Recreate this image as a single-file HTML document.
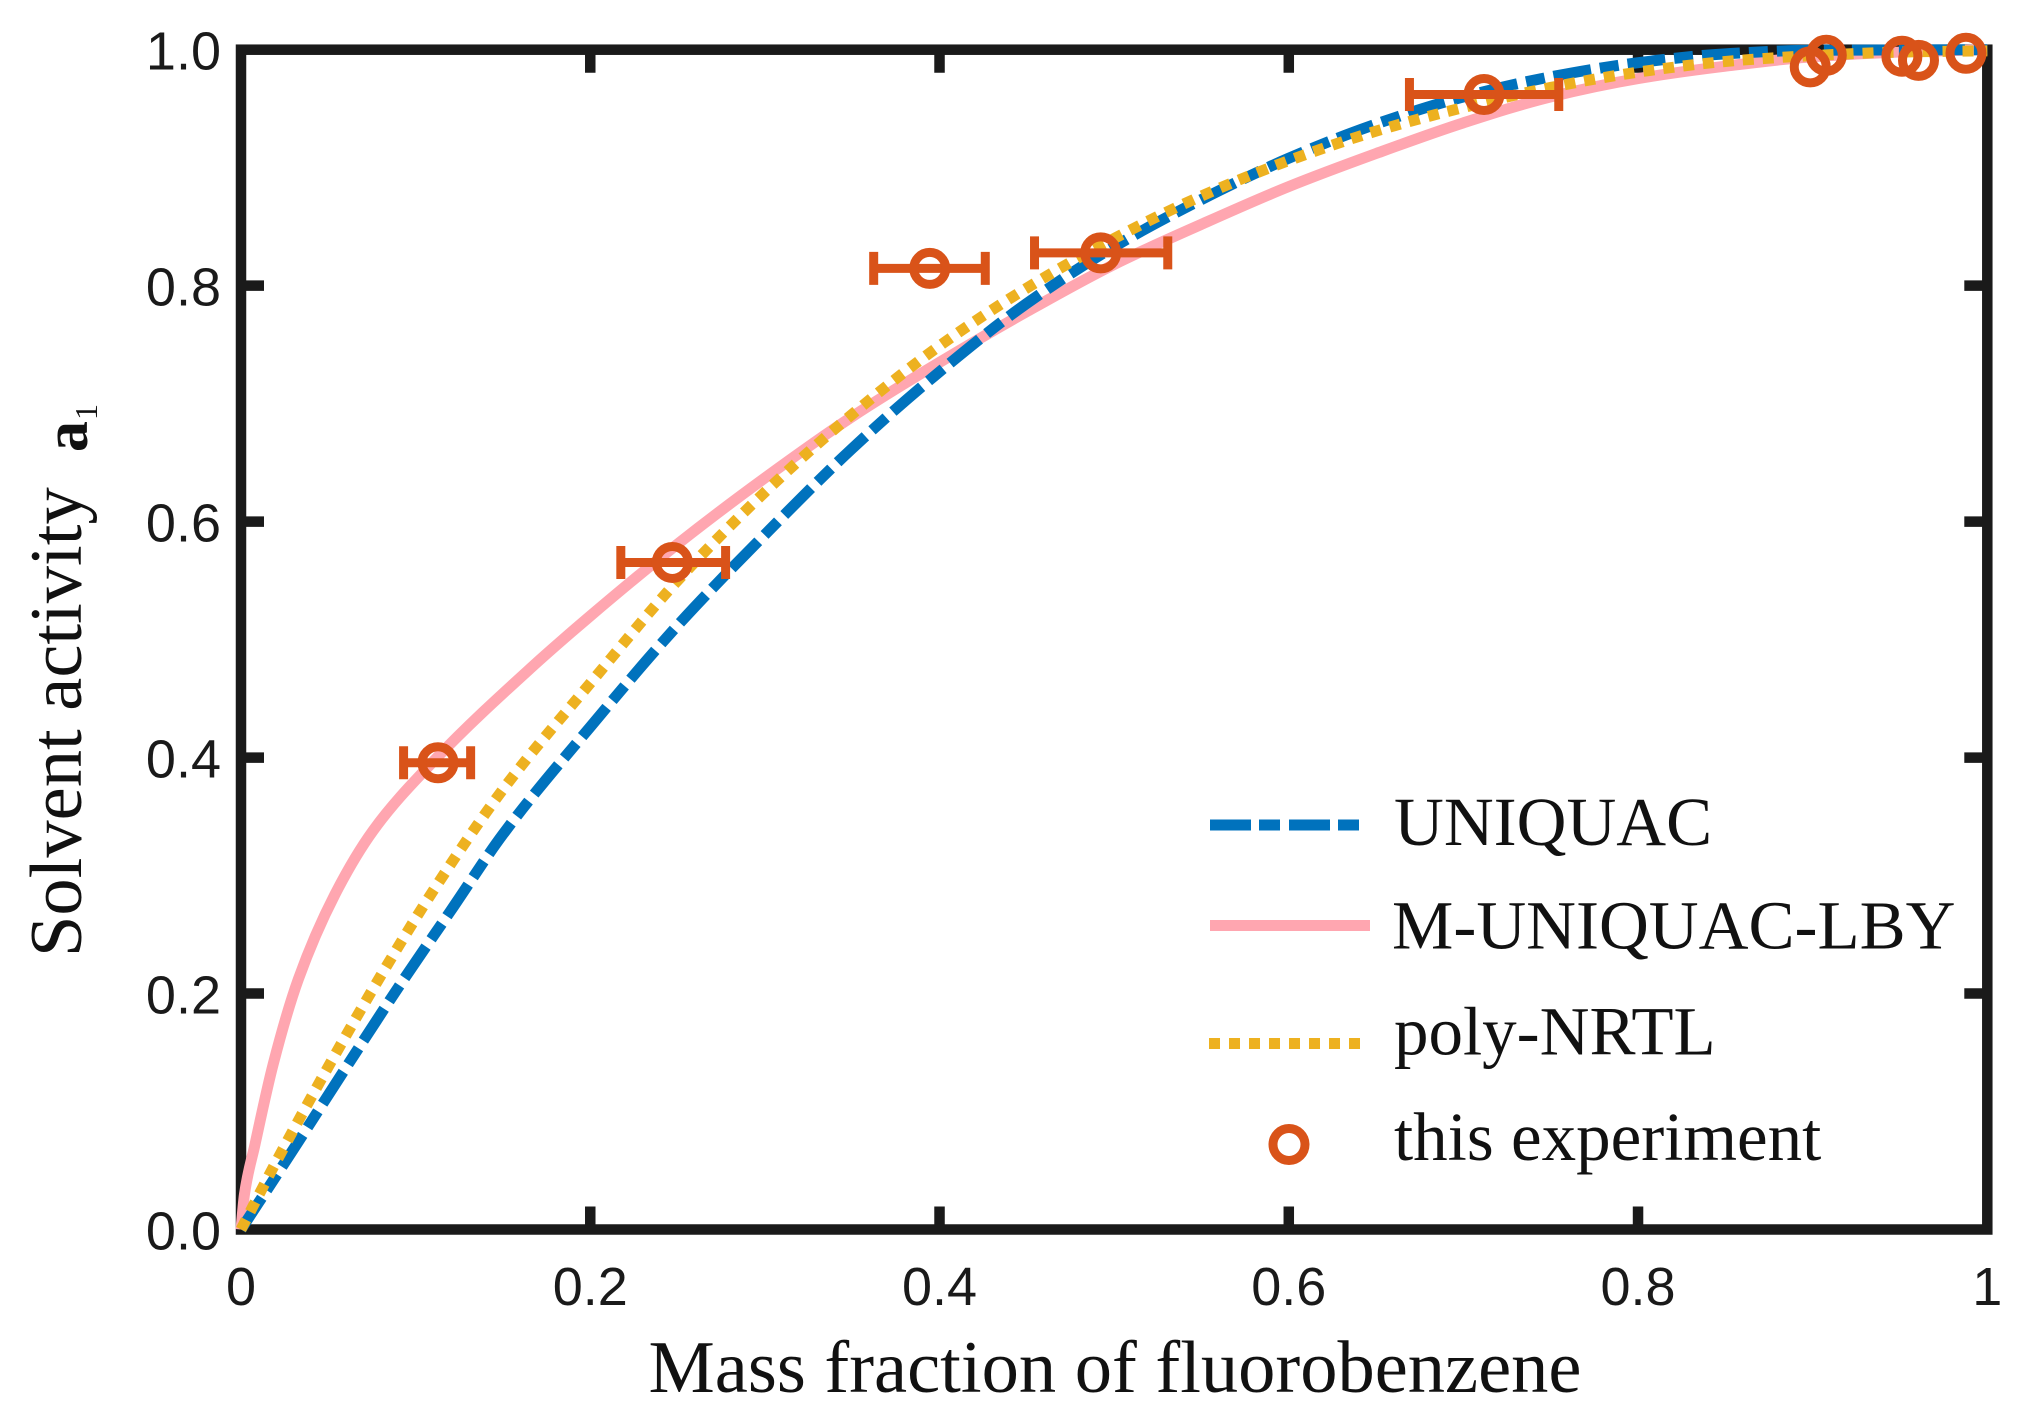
<!DOCTYPE html>
<html>
<head>
<meta charset="utf-8">
<title>Solvent activity vs mass fraction of fluorobenzene</title>
<style>
html,body{margin:0;padding:0;background:#fff;width:2028px;height:1417px;overflow:hidden}
svg{display:block}
.tick{font-family:"Liberation Sans",sans-serif;font-size:54px;fill:#1a1a1a}
.title{font-family:"Liberation Serif",serif;font-size:74.5px;fill:#111}
.leg{font-family:"Liberation Serif",serif;font-size:69px;fill:#111}
</style>
</head>
<body>
<svg id="chart" width="2028" height="1417" viewBox="0 0 2028 1417" xmlns="http://www.w3.org/2000/svg">
  <g id="axes"></g>
  <g id="series"></g>
  <text class="title" x="1115" y="1392" text-anchor="middle">Mass fraction of fluorobenzene</text>
  <text class="title" transform="translate(81,957) rotate(-90)">Solvent activity</text>
  <text transform="translate(87,452) rotate(-90)" font-family="'Liberation Serif',serif" font-weight="bold" font-size="62" fill="#111">a</text>
  <text transform="translate(97,420) rotate(-90)" font-family="'Liberation Serif',serif" font-size="32" fill="#111">1</text>
  <g>
    <line x1="1210" x2="1363" y1="825" y2="825" stroke="#0072BD" stroke-width="11" stroke-dasharray="41 8 21 9"/>
    <text class="leg" x="1394" y="845">UNIQUAC</text>
    <line x1="1210" x2="1370" y1="925.5" y2="925.5" stroke="#FFA6B0" stroke-width="11"/>
    <text class="leg" x="1392" y="948.5">M-UNIQUAC-LBY</text>
    <line x1="1209" x2="1368" y1="1043.5" y2="1043.5" stroke="#EDB120" stroke-width="11" stroke-dasharray="11 9"/>
    <text class="leg" x="1394" y="1054.5">poly-NRTL</text>
    <circle cx="1289" cy="1144.5" r="16" fill="none" stroke="#D95319" stroke-width="9"/>
    <text class="leg" x="1394" y="1160">this experiment</text>
  </g>
</svg>
<script>
const xTickValues = [0, 0.2, 0.4, 0.6, 0.8, 1];
const xTickLabels = ['0', '0.2', '0.4', '0.6', '0.8', '1'];
const yTickValues = [0, 0.2, 0.4, 0.6, 0.8, 1];
const yTickLabels = ['0.0', '0.2', '0.4', '0.6', '0.8', '1.0'];

const uniquacX = [0, 0.03, 0.06, 0.09, 0.12, 0.15, 0.2, 0.25, 0.3, 0.35, 0.4, 0.45, 0.5, 0.55, 0.6, 0.65, 0.7, 0.75, 0.8, 0.85, 0.9, 1];
const uniquacY = [0, 0.068, 0.137, 0.205, 0.27, 0.335, 0.426, 0.512, 0.589, 0.662, 0.727, 0.785, 0.833, 0.873, 0.908, 0.937, 0.96, 0.977, 0.989, 0.9965, 0.9995, 1];

const mUniquacX = [0, 0.002, 0.008, 0.0184, 0.0328, 0.0538, 0.0756, 0.1109, 0.166, 0.2, 0.25, 0.3, 0.35, 0.4, 0.45, 0.5, 0.55, 0.6, 0.65, 0.7, 0.75, 0.8, 0.85, 0.9, 0.95, 1];
const mUniquacY = [0, 0.03, 0.072, 0.14, 0.212, 0.284, 0.338, 0.398, 0.476, 0.52, 0.581, 0.637, 0.689, 0.735, 0.778, 0.818, 0.852, 0.884, 0.912, 0.938, 0.96, 0.9755, 0.986, 0.994, 0.998, 1];

const polyNrtlX = [0, 0.02, 0.05, 0.08, 0.11, 0.15, 0.2, 0.25, 0.3, 0.35, 0.4, 0.45, 0.5, 0.55, 0.6, 0.65, 0.7, 0.75, 0.8, 0.85, 0.9, 0.95, 1];
const polyNrtlY = [0, 0.057, 0.138, 0.215, 0.287, 0.373, 0.463, 0.55, 0.625, 0.691, 0.749, 0.798, 0.84, 0.876, 0.906, 0.931, 0.951, 0.968, 0.981, 0.99, 0.995, 0.998, 0.999];

const expX = [0.1128, 0.247, 0.3944, 0.4923, 0.7118, 0.8986, 0.9078, 0.9511, 0.9606, 0.9878];
const expY = [0.3956, 0.5654, 0.8146, 0.8278, 0.962, 0.9854, 0.9953, 0.9945, 0.991, 0.997];
const errX = [0.1128, 0.247, 0.3944, 0.4923, 0.7118];
const errY = [0.3956, 0.5654, 0.8146, 0.8278, 0.962];
const errLow = [0.0931, 0.2175, 0.3623, 0.4544, 0.6691];
const errHigh = [0.1315, 0.2775, 0.4262, 0.5307, 0.7546];

const NS = 'http://www.w3.org/2000/svg';
const plotLeft = 241, plotRight = 1987.3, plotTop = 49.7, plotBottom = 1229.5;
function sx(v) { return plotLeft + (plotRight - plotLeft) * v; }
function sy(v) { return plotBottom - (plotBottom - plotTop) * v; }

function make(tag, parent) {
  const el = document.createElementNS(NS, tag);
  parent.appendChild(el);
  return el;
}
function monotonePath(xs, ys) {
  const px = xs.map(sx), py = ys.map(sy), n = px.length;
  const d = [], m = new Array(n);
  for (let i = 0; i < n - 1; i++) d.push((py[i + 1] - py[i]) / (px[i + 1] - px[i]));
  m[0] = d[0]; m[n - 1] = d[n - 2];
  for (let i = 1; i < n - 1; i++) {
    if (d[i - 1] * d[i] <= 0) { m[i] = 0; continue; }
    const h0 = px[i] - px[i - 1], h1 = px[i + 1] - px[i];
    const w0 = 2 * h1 + h0, w1 = h1 + 2 * h0;
    m[i] = (w0 + w1) / (w0 / d[i - 1] + w1 / d[i]);
  }
  let s = 'M' + px[0].toFixed(2) + ' ' + py[0].toFixed(2);
  for (let i = 0; i < n - 1; i++) {
    const h = (px[i + 1] - px[i]) / 3;
    s += 'C' + (px[i] + h).toFixed(2) + ' ' + (py[i] + m[i] * h).toFixed(2) + ' ' +
         (px[i + 1] - h).toFixed(2) + ' ' + (py[i + 1] - m[i + 1] * h).toFixed(2) + ' ' +
         px[i + 1].toFixed(2) + ' ' + py[i + 1].toFixed(2);
  }
  return s;
}

const axes = document.getElementById('axes');
const series = document.getElementById('series');
const INK = '#1a1a1a';

const frame = make('rect', axes);


frame.setAttribute('x', sx(0));
frame.setAttribute('y', sy(1));
frame.setAttribute('width', sx(1) - sx(0));
frame.setAttribute('height', sy(0) - sy(1));
frame.setAttribute('fill', 'none');
frame.setAttribute('stroke', INK);
frame.setAttribute('stroke-width', '10.5');

const TICK_LEN = 23;
xTickValues.forEach(function (v, i) {
  if (v > 0 && v < 1) {
    [[sy(0), sy(0) - TICK_LEN], [sy(1), sy(1) + TICK_LEN]].forEach(function (p) {
      const t = make('line', axes);
      
      
      t.setAttribute('x1', sx(v));
      t.setAttribute('x2', sx(v));
      t.setAttribute('y1', p[0]);
      t.setAttribute('y2', p[1]);
      t.setAttribute('stroke', INK);
      t.setAttribute('stroke-width', '10.5');
    });
  }
  const lab = make('text', axes);
  
  
  lab.setAttribute('class', 'tick');
  lab.setAttribute('x', sx(v));
  lab.setAttribute('y', 1305);
  lab.setAttribute('text-anchor', 'middle');
  lab.textContent = xTickLabels[i];
});
yTickValues.forEach(function (v, i) {
  if (v > 0 && v < 1) {
    [[sx(0), sx(0) + TICK_LEN], [sx(1), sx(1) - TICK_LEN]].forEach(function (p) {
      const t = make('line', axes);
      
      
      t.setAttribute('x1', p[0]);
      t.setAttribute('x2', p[1]);
      t.setAttribute('y1', sy(v));
      t.setAttribute('y2', sy(v));
      t.setAttribute('stroke', INK);
      t.setAttribute('stroke-width', '10.5');
    });
  }
  const lab = make('text', axes);
  
  
  lab.setAttribute('class', 'tick');
  lab.setAttribute('x', 221);
  lab.setAttribute('y', sy(v) + 20);
  lab.setAttribute('text-anchor', 'end');
  lab.textContent = yTickLabels[i];
});

const pink = make('path', series);


pink.setAttribute('d', monotonePath(mUniquacX, mUniquacY));
pink.setAttribute('fill', 'none');
pink.setAttribute('stroke', '#FFA6B0');
pink.setAttribute('stroke-width', '11');

const blue = make('path', series);


blue.setAttribute('d', monotonePath(uniquacX, uniquacY));
blue.setAttribute('fill', 'none');
blue.setAttribute('stroke', '#0072BD');
blue.setAttribute('stroke-width', '11');
blue.setAttribute('stroke-dasharray', '38 9 19 9');

const yellow = make('path', series);


yellow.setAttribute('d', monotonePath(polyNrtlX, polyNrtlY));
yellow.setAttribute('fill', 'none');
yellow.setAttribute('stroke', '#EDB120');
yellow.setAttribute('stroke-width', '11');
yellow.setAttribute('stroke-dasharray', '11 9');

errX.forEach(function (v, i) {
  const bar = make('path', series);
  
  
  const y = sy(errY[i]), a = sx(errLow[i]), b = sx(errHigh[i]);
  bar.setAttribute('d', 'M' + a + ' ' + y + 'H' + b + 'M' + a + ' ' + (y - 16.5) + 'V' + (y + 16.5) + 'M' + b + ' ' + (y - 16.5) + 'V' + (y + 16.5));
  bar.setAttribute('fill', 'none');
  bar.setAttribute('stroke', '#D95319');
  bar.setAttribute('stroke-width', '9');
});
expX.forEach(function (v, i) {
  const c = make('circle', series);
  
  
  c.setAttribute('cx', sx(v));
  c.setAttribute('cy', sy(expY[i]));
  c.setAttribute('r', '16');
  c.setAttribute('fill', 'none');
  c.setAttribute('stroke', '#D95319');
  c.setAttribute('stroke-width', '9');
});
</script>
</body>
</html>
